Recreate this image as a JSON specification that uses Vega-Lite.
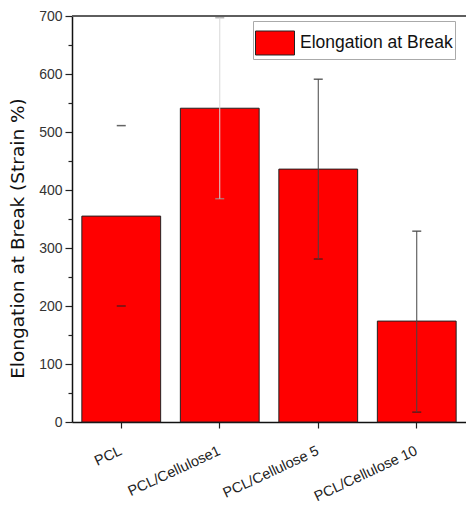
{
  "$schema": "https://vega.github.io/schema/vega-lite/v6.json",
  "width": 394,
  "height": 406,
  "autosize": {"type": "none"},
  "padding": {"left": 72, "top": 16, "right": 0, "bottom": 85},
  "background": "white",
  "config": {
    "view": {"stroke": null},
    "font": "Liberation Sans",
    "axis": {"grid": false, "domainColor": "#111", "domainWidth": 1.5, "tickColor": "#222", "tickWidth": 1.2}
  },
  "data": {
    "values": [
      {"sample": "PCL", "strain": 355, "lo": 200, "hi": 511},
      {"sample": "PCL/Cellulose1", "strain": 541, "lo": 385, "hi": 697},
      {"sample": "PCL/Cellulose 5", "strain": 436, "lo": 281, "hi": 591},
      {"sample": "PCL/Cellulose 10", "strain": 174, "lo": 17, "hi": 329}
    ]
  },
  "encoding": {
    "x": {
      "field": "sample",
      "type": "nominal",
      "sort": null,
      "scale": {"paddingInner": 0.2, "paddingOuter": 0.1},
      "axis": {
        "title": null,
        "labelAngle": -25,
        "labelAlign": "right",
        "labelBaseline": "middle",
        "labelPadding": 22,
        "labelFontSize": 14.5,
        "labelColor": "#222",
        "tickSize": 6
      }
    }
  },
  "layer": [
    {
      "mark": {"type": "bar", "stroke": "#222", "strokeWidth": 1},
      "encoding": {
        "y": {
          "field": "strain",
          "type": "quantitative",
          "scale": {"domain": [0, 700], "nice": false},
          "axis": {
            "values": [0, 100, 200, 300, 400, 500, 600, 700],
            "title": "Elongation at Break (Strain %)",
            "titleFont": "DejaVu Sans",
            "titleFontSize": 18.5,
            "titleFontWeight": "normal",
            "titleColor": "#111",
            "titleX": -45,
            "titleY": 222,
            "labelFontSize": 14,
            "labelColor": "#333",
            "labelPadding": 3,
            "tickSize": 7
          }
        },
        "color": {
          "datum": "Elongation at Break",
          "type": "nominal",
          "scale": {"range": ["#ff0000"]},
          "legend": {
            "title": null,
            "orient": "none",
            "legendX": 181,
            "legendY": 5,
            "strokeColor": "#aaa",
            "padding": 2,
            "symbolType": "M-1,-0.615H1V0.615H-1Z",
            "symbolSize": 1521,
            "symbolStrokeColor": "#222",
            "symbolStrokeWidth": 1,
            "symbolOpacity": 1,
            "labelFontSize": 17.5,
            "labelColor": "#111",
            "labelOffset": 5
          }
        }
      }
    },
    {
      "transform": [{"fold": ["lo", "hi"], "as": ["end", "tick"]}],
      "mark": {"type": "tick", "size": 9, "thickness": 1.5},
      "encoding": {
        "y": {
          "field": "tick",
          "type": "quantitative",
          "axis": {
            "values": [50, 150, 250, 350, 450, 550, 650],
            "labels": false,
            "title": null,
            "tickSize": 4,
            "domain": false,
            "orient": "left"
          }
        },
        "color": {
          "condition": {"test": "datum.sample === 'PCL/Cellulose1'", "value": "#999"},
          "value": "#222"
        }
      }
    },
    {
      "mark": {"type": "rule", "strokeWidth": 1},
      "encoding": {
        "y": {"field": "lo", "type": "quantitative", "axis": null},
        "y2": {"field": "hi"},
        "color": {
          "condition": {"test": "datum.sample === 'PCL/Cellulose1'", "value": "#d8d8d8"},
          "value": "#444"
        },
        "strokeOpacity": {
          "condition": {"test": "datum.sample === 'PCL'", "value": 0},
          "value": 1
        }
      }
    },
    {
      "mark": {"type": "rule", "color": "#555", "strokeWidth": 1.2},
      "encoding": {"y": {"datum": 700, "axis": null}, "x": null}
    }
  ],
  "resolve": {"axis": {"y": "independent"}, "scale": {"y": "shared"}}
}
